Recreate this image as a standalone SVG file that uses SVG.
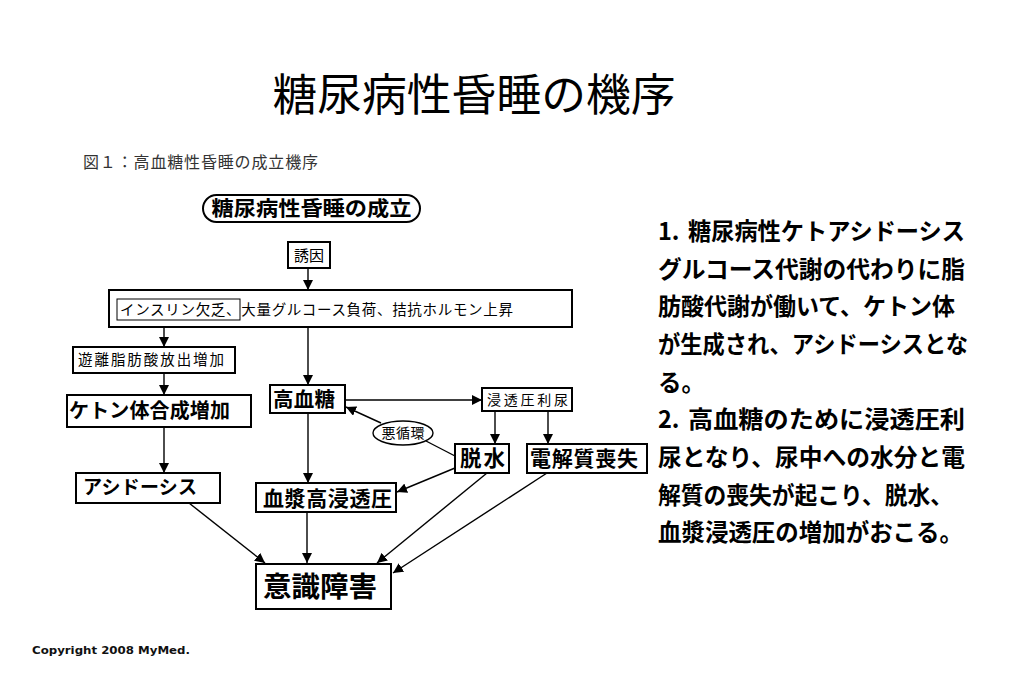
<svg xmlns="http://www.w3.org/2000/svg" width="1023" height="682" viewBox="0 0 1023 682">
<defs>
<style>
.bx{fill:#fff;stroke:#000;stroke-width:2}
.thin{fill:none;stroke:#000;stroke-width:1}
.ln{fill:none;stroke:#000;stroke-width:1.4}
.jp{font-family:"Noto Sans CJK JP","Noto Sans CJK SC",sans-serif;fill:#000}
.b{font-weight:bold}
.c{text-anchor:middle}
</style>
<marker id="ah" viewBox="0 0 10 10" refX="10" refY="5" markerWidth="10" markerHeight="10" markerUnits="userSpaceOnUse" orient="auto">
<path d="M0,0 L10,5 L0,10 z" fill="#000"/>
</marker>
</defs>
<rect width="1023" height="682" fill="#fff"/>

<text id="title" class="jp c" x="474" y="111" font-size="44" textLength="403" lengthAdjust="spacingAndGlyphs">糖尿病性昏睡の機序</text>
<text id="caption" x="83" y="168" font-size="16" fill="#333" font-family="'Liberation Serif','Noto Sans CJK JP',serif" textLength="235" lengthAdjust="spacing">図１：高血糖性昏睡の成立機序</text>

<g id="connectors">
<line class="ln" x1="308" y1="268" x2="308" y2="290" marker-end="url(#ah)"/>
<line class="ln" x1="164" y1="320" x2="164" y2="347" marker-end="url(#ah)"/>
<line class="ln" x1="164" y1="373" x2="164" y2="395" marker-end="url(#ah)"/>
<line class="ln" x1="164" y1="427" x2="164" y2="473" marker-end="url(#ah)"/>
<line class="ln" x1="308" y1="327" x2="308" y2="385" marker-end="url(#ah)"/>
<line class="ln" x1="345" y1="400" x2="482" y2="400" marker-end="url(#ah)"/>
<line class="ln" x1="495" y1="411" x2="495" y2="444" marker-end="url(#ah)"/>
<line class="ln" x1="548" y1="411" x2="548" y2="444" marker-end="url(#ah)"/>
<line class="ln" x1="455" y1="456" x2="426" y2="441"/>
<line class="ln" x1="381" y1="423" x2="346" y2="407" marker-end="url(#ah)"/>
<line class="ln" x1="308" y1="413" x2="308" y2="483" marker-end="url(#ah)"/>
<line class="ln" x1="455" y1="468" x2="397" y2="492" marker-end="url(#ah)"/>
<line class="ln" x1="189" y1="503" x2="265" y2="563" marker-end="url(#ah)"/>
<line class="ln" x1="307" y1="512" x2="307" y2="563" marker-end="url(#ah)"/>
<line class="ln" x1="487" y1="473" x2="377" y2="563" marker-end="url(#ah)"/>
<line class="ln" x1="547" y1="473" x2="393" y2="573" marker-end="url(#ah)"/>
</g>

<g id="n-seiritsu">
<rect class="bx" x="203" y="195" width="217" height="27" rx="13.5"/>
<text class="jp b c" x="311.5" y="216" font-size="20.5" textLength="200" lengthAdjust="spacingAndGlyphs">糖尿病性昏睡の成立</text>
</g>
<g id="n-yuin">
<rect class="bx" x="288" y="242" width="42" height="26"/>
<text class="jp c" x="309" y="260.5" font-size="15">誘因</text>
</g>
<g id="n-cause">
<rect class="bx" x="109" y="290" width="463" height="37"/>
<rect class="thin" x="117" y="299" width="123" height="21"/>
<text class="jp" x="120" y="315" font-size="14.5" textLength="393" lengthAdjust="spacing">インスリン欠乏、大量グルコース負荷、拮抗ホルモン上昇</text>
</g>
<g id="n-fa">
<rect class="bx" x="73" y="347" width="162" height="26"/>
<text class="jp" x="78" y="365" font-size="14.5" textLength="146" lengthAdjust="spacing">遊離脂肪酸放出増加</text>
</g>
<g id="n-ketone">
<rect class="bx" x="67" y="395" width="184" height="32"/>
<text class="jp b" x="69" y="418" font-size="20" textLength="161" lengthAdjust="spacing">ケトン体合成増加</text>
</g>
<g id="n-acidosis">
<rect class="bx" x="76" y="473" width="144" height="30"/>
<text class="jp b" x="83" y="494" font-size="19" textLength="114" lengthAdjust="spacing">アシドーシス</text>
</g>
<g id="n-hyperglycemia">
<rect class="bx" x="270" y="385" width="75" height="28"/>
<text class="jp b" x="273" y="407" font-size="20.5" textLength="62" lengthAdjust="spacing">高血糖</text>
</g>
<g id="n-diuresis">
<rect class="bx" x="482" y="388" width="90" height="23"/>
<text class="jp" x="487" y="405" font-size="14" textLength="81" lengthAdjust="spacing">浸透圧利尿</text>
</g>
<g id="n-vicious">
<ellipse cx="403" cy="433" rx="30" ry="12" fill="#fff" stroke="#000" stroke-width="1.4"/>
<text class="jp c" x="403" y="438" font-size="14" textLength="43" lengthAdjust="spacing">悪循環</text>
</g>
<g id="n-dehydration">
<rect class="bx" x="455" y="444" width="54" height="29"/>
<text class="jp b" x="460" y="466" font-size="21.5" textLength="45" lengthAdjust="spacing">脱水</text>
</g>
<g id="n-electrolyte">
<rect class="bx" x="527" y="444" width="120" height="29"/>
<text class="jp b" x="530" y="466" font-size="21" textLength="108" lengthAdjust="spacing">電解質喪失</text>
</g>
<g id="n-plasma">
<rect class="bx" x="256" y="483" width="140" height="29"/>
<text class="jp b" x="263" y="506" font-size="21" textLength="129" lengthAdjust="spacing">血漿高浸透圧</text>
</g>
<g id="n-consciousness">
<rect class="bx" x="256" y="564" width="135" height="45"/>
<text class="jp b" x="263" y="597" font-size="28.5" textLength="114" lengthAdjust="spacing">意識障害</text>
</g>

<g id="explanation" class="jp b" font-size="23.5">
<text x="658" y="240"><tspan>1.</tspan><tspan x="688" textLength="277" lengthAdjust="spacingAndGlyphs">糖尿病性ケトアシドーシス</tspan></text>
<text x="658" y="278" textLength="307" lengthAdjust="spacingAndGlyphs">グルコース代謝の代わりに脂</text>
<text x="658" y="315" textLength="297" lengthAdjust="spacingAndGlyphs">肪酸代謝が働いて、ケトン体</text>
<text x="658" y="353" textLength="310" lengthAdjust="spacingAndGlyphs">が生成され、アシドーシスとな</text>
<text x="658" y="391">る。</text>
<text x="658" y="428"><tspan>2.</tspan><tspan x="688" textLength="277" lengthAdjust="spacingAndGlyphs">高血糖のために浸透圧利</tspan></text>
<text x="658" y="466" textLength="307" lengthAdjust="spacingAndGlyphs">尿となり、尿中への水分と電</text>
<text x="658" y="504" textLength="295" lengthAdjust="spacingAndGlyphs">解質の喪失が起こり、脱水、</text>
<text x="658" y="541" textLength="305" lengthAdjust="spacingAndGlyphs">血漿浸透圧の増加がおこる。</text>
</g>

<text id="copyright" x="32" y="654" font-family="'DejaVu Sans',sans-serif" font-weight="bold" font-size="11" fill="#111" textLength="158" lengthAdjust="spacingAndGlyphs">Copyright 2008 MyMed.</text>
</svg>
